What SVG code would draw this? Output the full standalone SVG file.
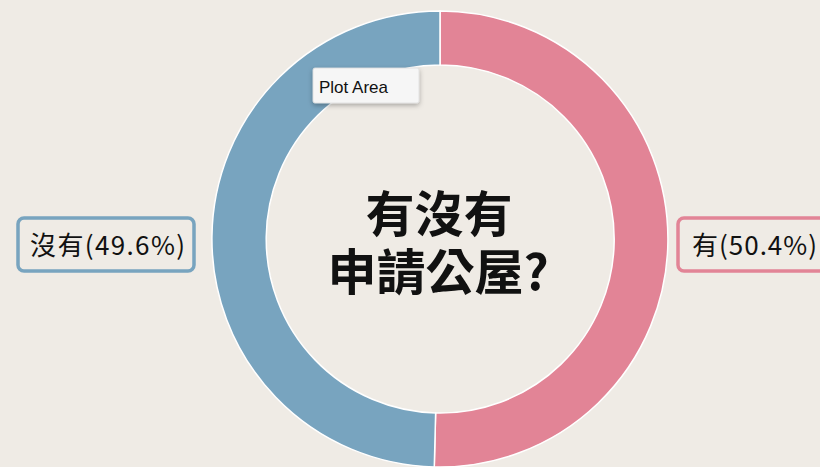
<svg xmlns="http://www.w3.org/2000/svg" width="820" height="467" viewBox="0 0 820 467">
<style>
.slice{stroke:#ffffff;stroke-width:1.5}
.lbl{font-family:"Noto Sans CJK TC","Noto Sans CJK SC",sans-serif;font-size:26px;fill:#111}
.title{font-family:"Noto Sans CJK TC","Noto Sans CJK SC",sans-serif;font-size:49px;font-weight:bold;fill:#111;text-anchor:middle}
.box{fill:#efebe5;stroke-width:3.5}
</style>
<defs>
<filter id="sh" x="-20%" y="-30%" width="140%" height="170%">
<feDropShadow dx="0" dy="2" stdDeviation="2.5" flood-color="#000" flood-opacity="0.3"/>
</filter>
</defs>
<rect width="820" height="467" fill="#efebe5"/>
<g id="slice-yes">
<path class="slice" fill="#e28496" d="M440,11 A228,228 0 1,1 434.27,466.93 L435.63,412.94 A174,174 0 1,0 440,65 Z"/>
</g>
<g id="slice-no">
<path class="slice" fill="#78a4bf" d="M434.27,466.93 A228,228 0 0,1 440,11 L440,65 A174,174 0 0,0 435.63,412.94 Z"/>
</g>
<g id="title">
<text class="title"><tspan x="439" y="232">有沒有</tspan><tspan x="438" y="290">申請公屋?</tspan></text>
</g>
<g id="label-no">
<rect class="box" x="18" y="218" width="176" height="53" rx="6" stroke="#78a4bf"/>
<text class="lbl" x="30" y="255" textLength="155" lengthAdjust="spacing">沒有(49.6%)</text>
</g>
<g id="label-yes">
<rect class="box" x="678" y="218" width="160" height="53" rx="6" stroke="#e28496"/>
<text class="lbl" x="692" y="255" textLength="125" lengthAdjust="spacing">有(50.4%)</text>
</g>
<g id="tooltip">
<rect x="313" y="68" width="106" height="35" rx="2" fill="#f6f6f6" stroke="#dddddd" stroke-width="0.8" filter="url(#sh)"/>
<text x="319" y="93" font-family="Liberation Sans, Arial, sans-serif" font-size="17" fill="#111">Plot Area</text>
</g>
</svg>
